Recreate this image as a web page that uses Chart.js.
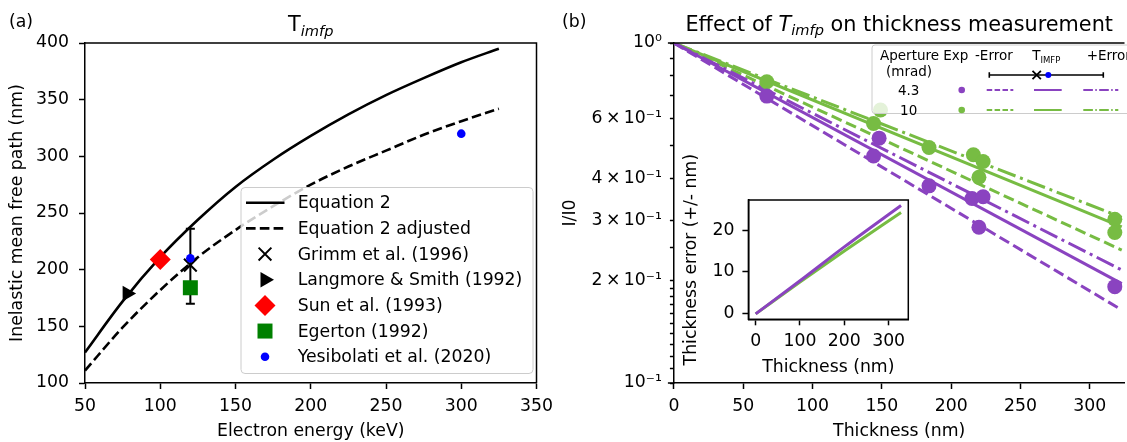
<!DOCTYPE html>
<html lang="en">
<head>
<meta charset="UTF-8">
<title>Inelastic mean free path and thickness</title>
<script src="https://cdn.jsdelivr.net/npm/chart.js"></script>
<style>
  html, body { margin: 0; padding: 0; background: #fff; overflow: hidden; width: 1127px; height: 442px; }
  canvas { position: absolute; }
  #chartA { left: 0; top: 0; }
  #chartB { left: 560px; top: 0; }
  #inset { left: 670px; top: 140px; }
</style>
</head>
<body>
<canvas id="chartA" width="560" height="442"></canvas>
<canvas id="chartB" width="572" height="442"></canvas>
<canvas id="inset" width="250" height="240"></canvas>
<script>
// ---- panel (a): IMFP vs electron energy ----
const energy = [50, 75, 100, 125, 150, 175, 200, 225, 250, 275, 300, 325];
const imfpEq2 = [127, 172, 211, 244, 273, 297, 318, 337, 354, 369, 383, 395];
const imfpEq2Adj = [111, 149, 182, 211, 235, 256, 275, 291, 305, 319, 331, 342];
const grimmE = [120], grimmL = [204], grimmLo = [170], grimmHi = [236];
const langmoreE = [78], langmoreL = [179];
const sunE = [100], sunL = [209];
const egertonE = [120], egertonL = [184];
const yesiE = [120, 300], yesiL = [210, 320];

// ---- panel (b): I/I0 vs thickness ----
const expThick43 = [67, 144, 148, 184, 215, 223, 220, 318];
const expI43 = [0.698, 0.465, 0.525, 0.380, 0.349, 0.353, 0.287, 0.192];
const expThick10 = [67, 144, 149, 184, 216, 223, 220, 318, 318];
const expI10 = [0.769, 0.580, 0.635, 0.493, 0.469, 0.448, 0.403, 0.303, 0.277];
const fitThick = [0, 323];
const fit43Minus = [1, 0.164], fit43 = [1, 0.196], fit43Plus = [1, 0.215];
const fit10Minus = [1, 0.246], fit10 = [1, 0.288], fit10Plus = [1, 0.307];
const logTickValues = [1, 0.6, 0.4, 0.3, 0.2, 0.1];
const logTickLabels = ['10\u2070', '6\u2009\u00d7\u200910\u207b\u00b9', '4\u2009\u00d7\u200910\u207b\u00b9',
                       '3\u2009\u00d7\u200910\u207b\u00b9', '2\u2009\u00d7\u200910\u207b\u00b9', '10\u207b\u00b9'];
const apertures = ['4.3', '10'];

// ---- inset: thickness error ----
const insetThick = [0, 100, 200, 328];
const insetErr43 = [0, 7.9, 16.0, 25.9];
const insetErr10 = [0, 7.6, 15.0, 24.2];

const purple = '#8a43c0';
const green = '#77bc43';
const FONT = "'DejaVu Sans', sans-serif";
const FS = 17.3;

Chart.defaults.font.family = FONT;
Chart.defaults.font.size = FS;
Chart.defaults.color = '#000';

const xy = (xs, ys) => xs.map((x, i) => ({x: x, y: ys[i]}));

function axis(extra) {
  const base = {
    grid: {drawOnChartArea: false, tickLength: 6, tickWidth: 1.5, tickColor: '#000'},
    border: {color: '#000', width: 1.5},
    ticks: {color: '#000', padding: 7, includeBounds: false, autoSkip: false, maxRotation: 0}
  };
  const out = Object.assign({}, base, extra);
  out.grid = Object.assign({}, base.grid, extra.grid || {});
  out.ticks = Object.assign({}, base.ticks, extra.ticks || {});
  return out;
}

function rrect(ctx, x, y, w, h, r) {
  ctx.beginPath();
  ctx.moveTo(x + r, y);
  ctx.lineTo(x + w - r, y); ctx.arcTo(x + w, y, x + w, y + r, r);
  ctx.lineTo(x + w, y + h - r); ctx.arcTo(x + w, y + h, x + w - r, y + h, r);
  ctx.lineTo(x + r, y + h); ctx.arcTo(x, y + h, x, y + h - r, r);
  ctx.lineTo(x, y + r); ctx.arcTo(x, y, x + r, y, r);
  ctx.closePath();
}

function richText(ctx, parts, cx, baseY) {
  let total = 0;
  parts.forEach(p => { ctx.font = p.font; p.w = ctx.measureText(p.t).width; total += p.w; });
  let x = cx - total / 2;
  ctx.textAlign = 'left';
  ctx.textBaseline = 'alphabetic';
  parts.forEach(p => { ctx.font = p.font; ctx.fillText(p.t, x, baseY + (p.dy || 0)); x += p.w; });
}

function marker(ctx, kind, x, y) {
  ctx.save();
  ctx.beginPath();
  if (kind === 'x') {
    ctx.strokeStyle = '#000'; ctx.lineWidth = 2;
    ctx.moveTo(x - 6.4, y - 6.4); ctx.lineTo(x + 6.4, y + 6.4);
    ctx.moveTo(x + 6.4, y - 6.4); ctx.lineTo(x - 6.4, y + 6.4);
    ctx.stroke();
  } else if (kind === 'tri') {
    ctx.fillStyle = '#000';
    ctx.moveTo(x + 9, y); ctx.lineTo(x - 4.5, y - 7.8); ctx.lineTo(x - 4.5, y + 7.8);
    ctx.closePath(); ctx.fill();
  } else if (kind === 'diamond') {
    ctx.fillStyle = '#ff0000';
    ctx.moveTo(x - 10.5, y); ctx.lineTo(x, y - 10.5); ctx.lineTo(x + 10.5, y); ctx.lineTo(x, y + 10.5);
    ctx.closePath(); ctx.fill();
  } else if (kind === 'square') {
    ctx.fillStyle = '#008000';
    ctx.rect(x - 7.5, y - 7.5, 15, 15); ctx.fill();
  } else if (kind === 'dot') {
    ctx.fillStyle = '#0000ff';
    ctx.arc(x, y, 4.3, 0, Math.PI * 2); ctx.fill();
  }
  ctx.restore();
}

// ---------------- panel (a) ----------------
const panelA = {
  id: 'panelA',
  beforeDatasetsDraw(chart) {
    const ctx = chart.ctx, xs = chart.scales.x, ys = chart.scales.y;
    ctx.save();
    ctx.strokeStyle = '#000'; ctx.lineWidth = 2;
    grimmE.forEach((e, i) => {
      const px = xs.getPixelForValue(e);
      const lo = ys.getPixelForValue(grimmLo[i]), hi = ys.getPixelForValue(grimmHi[i]);
      ctx.beginPath();
      ctx.moveTo(px, lo); ctx.lineTo(px, hi);
      ctx.moveTo(px - 4.5, lo); ctx.lineTo(px + 4.5, lo);
      ctx.moveTo(px - 4.5, hi); ctx.lineTo(px + 4.5, hi);
      ctx.stroke();
    });
    ctx.restore();
  },
  afterDatasetsDraw(chart) {
    const ctx = chart.ctx;
    ctx.save();
    rrect(ctx, 241, 187.5, 292, 186, 4);
    ctx.fillStyle = 'rgba(255,255,255,0.8)'; ctx.fill();
    ctx.strokeStyle = '#cccccc'; ctx.lineWidth = 1; ctx.stroke();
    const items = [
      ['line', 'Equation 2'], ['dash', 'Equation 2 adjusted'], ['x', 'Grimm et al. (1996)'],
      ['tri', 'Langmore & Smith (1992)'], ['diamond', 'Sun et al. (1993)'],
      ['square', 'Egerton (1992)'], ['dot', 'Yesibolati et al. (2020)']
    ];
    items.forEach((it, i) => {
      const y = 202.7 + i * 25.67;
      if (it[0] === 'line' || it[0] === 'dash') {
        ctx.beginPath();
        ctx.strokeStyle = '#000'; ctx.lineWidth = 2.6;
        ctx.setLineDash(it[0] === 'dash' ? [9.6, 4.2] : []);
        ctx.moveTo(246, y); ctx.lineTo(284.5, y); ctx.stroke();
        ctx.setLineDash([]);
      } else {
        marker(ctx, it[0], 265, y);
      }
      ctx.fillStyle = '#000';
      ctx.font = FS + 'px ' + FONT;
      ctx.textAlign = 'left'; ctx.textBaseline = 'alphabetic';
      ctx.fillText(it[1], 297.7, y + 5.5);
    });
    ctx.restore();
  },
  afterDraw(chart) {
    const ctx = chart.ctx, a = chart.chartArea;
    ctx.save();
    ctx.strokeStyle = '#000'; ctx.lineWidth = 1.5;
    ctx.beginPath();
    ctx.moveTo(a.left, a.top); ctx.lineTo(a.right, a.top); ctx.lineTo(a.right, a.bottom);
    ctx.stroke();
    ctx.fillStyle = '#000';
    ctx.font = FS + 'px ' + FONT; ctx.textAlign = 'left'; ctx.textBaseline = 'alphabetic';
    ctx.fillText('(a)', 9, 27);
    richText(ctx, [
      {t: 'T', font: '20.8px ' + FONT},
      {t: 'imfp', font: 'italic 14.6px ' + FONT, dy: 4.5}
    ], (a.left + a.right) / 2, 31);
    ctx.restore();
  }
};

new Chart(document.getElementById('chartA'), {
  type: 'line',
  data: {
    datasets: [
      {label: 'Yesibolati et al. (2020)', data: xy(yesiE, yesiL), showLine: false, order: 1,
       pointStyle: 'circle', pointRadius: 4.3, pointBackgroundColor: '#0000ff', pointBorderWidth: 0},
      {label: 'Egerton (1992)', data: xy(egertonE, egertonL), showLine: false, order: 2,
       pointStyle: 'rect', pointRadius: 10.6, pointBackgroundColor: '#008000', pointBorderWidth: 0},
      {label: 'Sun et al. (1993)', data: xy(sunE, sunL), showLine: false, order: 3,
       pointStyle: 'rectRot', pointRadius: 10.5, pointBackgroundColor: '#ff0000', pointBorderWidth: 0},
      {label: 'Langmore & Smith (1992)', data: xy(langmoreE, langmoreL), showLine: false, order: 4,
       pointStyle: 'triangle', pointRotation: 90, pointRadius: 9, pointBackgroundColor: '#000', pointBorderWidth: 0},
      {label: 'Grimm et al. (1996)', data: xy(grimmE, grimmL), showLine: false, order: 5,
       pointStyle: 'crossRot', pointRadius: 9, pointBorderColor: '#000', pointBorderWidth: 2},
      {label: 'Equation 2', data: xy(energy, imfpEq2), order: 6, borderColor: '#000', borderWidth: 2.6,
       pointRadius: 0, cubicInterpolationMode: 'monotone'},
      {label: 'Equation 2 adjusted', data: xy(energy, imfpEq2Adj), order: 7, borderColor: '#000', borderWidth: 2.6,
       borderDash: [9.6, 4.2], pointRadius: 0, cubicInterpolationMode: 'monotone'}
    ]
  },
  options: {
    responsive: false,
    animation: false,
    layout: {padding: {top: 43, right: 19, left: 0, bottom: 0}},
    plugins: {legend: {display: false}, title: {display: false}, tooltip: {enabled: false}},
    scales: {
      x: axis({type: 'linear', min: 50, max: 350, ticks: {stepSize: 50},
        title: {display: true, text: 'Electron energy (keV)', padding: {top: 0, bottom: 0}},
        afterFit: s => { s.height = 59; }}),
      y: axis({type: 'linear', min: 100, max: 400, ticks: {stepSize: 50, padding: 10},
        title: {display: true, text: 'Inelastic mean free path (nm)', padding: {top: 7.5, bottom: 0}},
        afterFit: s => { s.width = 85; }})
    }
  },
  plugins: [panelA]
});

// ---------------- panel (b) ----------------
const dashMinus = [11, 4.8];
const dashPlus = [19, 4.8, 3, 4.8];

const panelB = {
  id: 'panelB',
  afterDatasetsDraw(chart) {
    const ctx = chart.ctx;
    ctx.save();
    ctx.translate(-560, 0);
    rrect(ctx, 872, 45, 290, 68.5, 3);
    ctx.fillStyle = 'rgba(255,255,255,0.8)'; ctx.fill();
    ctx.strokeStyle = '#cccccc'; ctx.lineWidth = 1; ctx.stroke();
    ctx.fillStyle = '#000';
    ctx.textAlign = 'left'; ctx.textBaseline = 'alphabetic';
    ctx.font = '13.5px ' + FONT;
    ctx.fillText('Aperture', 880, 60);
    ctx.fillText('Exp', 943.3, 60);
    ctx.fillText('-Error', 975, 60);
    ctx.fillText('T', 1032.3, 60);
    ctx.fillText('+Error', 1086.7, 60);
    ctx.fillText('(mrad)', 886, 76);
    ctx.font = '8.5px ' + FONT;
    ctx.fillText('IMFP', 1040.5, 62.5);
    // error bar sample
    ctx.strokeStyle = '#000'; ctx.lineWidth = 1.6;
    ctx.beginPath();
    ctx.moveTo(989.3, 75); ctx.lineTo(1103.3, 75);
    ctx.moveTo(989.3, 72.2); ctx.lineTo(989.3, 77.8);
    ctx.moveTo(1103.3, 72.2); ctx.lineTo(1103.3, 77.8);
    ctx.stroke();
    ctx.lineWidth = 1.8;
    ctx.beginPath();
    ctx.moveTo(1032.5, 70.8); ctx.lineTo(1040.9, 79.2);
    ctx.moveTo(1040.9, 70.8); ctx.lineTo(1032.5, 79.2);
    ctx.stroke();
    ctx.fillStyle = '#0000ff';
    ctx.beginPath(); ctx.arc(1048.3, 75, 3, 0, Math.PI * 2); ctx.fill();
    // aperture rows
    [purple, green].forEach((col, i) => {
      const y = 90 + i * 20;
      ctx.fillStyle = '#000';
      ctx.font = '13.5px ' + FONT; ctx.textAlign = 'center';
      ctx.fillText(apertures[i], 908.7, y + 5);
      ctx.fillStyle = col;
      ctx.beginPath(); ctx.arc(961.7, y, 3.3, 0, Math.PI * 2); ctx.fill();
      ctx.strokeStyle = col; ctx.lineWidth = 2;
      [[986.7, 1013.3, [5.5, 2.4]], [1034, 1061.7, []], [1083.3, 1118.3, [9.6, 2.4, 1.5, 2.4]]].forEach(s => {
        ctx.setLineDash(s[2]);
        ctx.beginPath(); ctx.moveTo(s[0], y); ctx.lineTo(s[1], y); ctx.stroke();
      });
      ctx.setLineDash([]);
    });
    ctx.restore();
  },
  afterDraw(chart) {
    const ctx = chart.ctx, a = chart.chartArea, ys = chart.scales.y;
    ctx.save();
    ctx.strokeStyle = '#000'; ctx.lineWidth = 1.5;
    ctx.beginPath();
    ctx.moveTo(a.left, a.top); ctx.lineTo(a.right, a.top);
    [1, 0.1].forEach(v => {
      const py = ys.getPixelForValue(v);
      ctx.moveTo(a.left - 6, py); ctx.lineTo(a.left, py);
    });
    ctx.stroke();
    ctx.fillStyle = '#000';
    ctx.font = FS + 'px ' + FONT; ctx.textAlign = 'left'; ctx.textBaseline = 'alphabetic';
    ctx.fillText('(b)', 2, 27);
    richText(ctx, [
      {t: 'Effect of ', font: '20.8px ' + FONT},
      {t: 'T', font: 'italic 20.8px ' + FONT},
      {t: 'imfp', font: 'italic 14.6px ' + FONT, dy: 4.5},
      {t: ' on thickness measurement', font: '20.8px ' + FONT}
    ], (a.left + a.right) / 2, 30.7);
    ctx.restore();
  }
};

function fitLine(label, ys, color, dash) {
  return {label: label, data: xy(fitThick, ys), borderColor: color, borderWidth: 3,
          borderDash: dash, pointRadius: 0, order: 5};
}

new Chart(document.getElementById('chartB'), {
  type: 'line',
  data: {
    datasets: [
      {label: 'Exp 4.3 mrad', data: xy(expThick43, expI43), showLine: false, order: 1,
       pointRadius: 7.5, pointBackgroundColor: purple, pointBorderWidth: 0},
      {label: 'Exp 10 mrad', data: xy(expThick10, expI10), showLine: false, order: 2,
       pointRadius: 7.5, pointBackgroundColor: green, pointBorderWidth: 0},
      fitLine('4.3 -Error', fit43Minus, purple, dashMinus),
      fitLine('4.3 Timfp', fit43, purple, []),
      fitLine('4.3 +Error', fit43Plus, purple, dashPlus),
      fitLine('10 -Error', fit10Minus, green, dashMinus),
      fitLine('10 Timfp', fit10, green, []),
      fitLine('10 +Error', fit10Plus, green, dashPlus)
    ]
  },
  options: {
    responsive: false,
    animation: false,
    layout: {padding: {top: 43, right: 2, left: 0, bottom: 0}},
    plugins: {legend: {display: false}, title: {display: false}, tooltip: {enabled: false}},
    scales: {
      x: axis({type: 'linear', min: 0, max: 325, ticks: {stepSize: 50},
        title: {display: true, text: 'Thickness (nm)', padding: {top: 0, bottom: 0}},
        afterFit: s => { s.height = 59; }}),
      y: axis({type: 'logarithmic', min: 0.1, max: 1,
        grid: {tickLength: 4},
        ticks: {padding: 8, callback: v => {
          const k = logTickValues.findIndex(t => Math.abs(t - v) < 1e-6);
          return k >= 0 ? logTickLabels[k] : '';
        }},
        title: {display: true, text: 'I/I0', padding: {top: 0, bottom: 0}},
        afterFit: s => { s.width = 113.9; }})
    }
  },
  plugins: [panelB]
});

// ---------------- inset ----------------
const insetPlugin = {
  id: 'insetFrame',
  beforeDraw(chart) {
    const ctx = chart.ctx, a = chart.chartArea;
    ctx.save(); ctx.fillStyle = '#fff';
    ctx.fillRect(a.left, a.top, a.right - a.left, a.bottom - a.top);
    ctx.restore();
  },
  afterDraw(chart) {
    const ctx = chart.ctx, a = chart.chartArea;
    ctx.save(); ctx.strokeStyle = '#000'; ctx.lineWidth = 1.5;
    ctx.strokeRect(a.left, a.top, a.right - a.left, a.bottom - a.top);
    ctx.restore();
  }
};

new Chart(document.getElementById('inset'), {
  type: 'line',
  data: {
    datasets: [
      {label: '4.3 mrad', data: xy(insetThick, insetErr43), borderColor: purple, borderWidth: 3,
       pointRadius: 0, cubicInterpolationMode: 'monotone', order: 1},
      {label: '10 mrad', data: xy(insetThick, insetErr10), borderColor: green, borderWidth: 3,
       pointRadius: 0, cubicInterpolationMode: 'monotone', order: 2}
    ]
  },
  options: {
    responsive: false,
    animation: false,
    layout: {padding: {top: 60, right: 11.7, left: 0, bottom: 0}},
    plugins: {legend: {display: false}, title: {display: false}, tooltip: {enabled: false}},
    scales: {
      x: axis({type: 'linear', min: -16.4, max: 344.4, ticks: {stepSize: 100, padding: 6},
        title: {display: true, text: 'Thickness (nm)', padding: {top: 0, bottom: 2.6}},
        afterFit: s => { s.height = 60.7; }}),
      y: axis({type: 'linear', min: -1.3, max: 27.2, ticks: {stepSize: 10, padding: 8},
        title: {display: true, text: 'Thickness error (+/- nm)', padding: {top: 11.6, bottom: 0}},
        afterFit: s => { s.width = 78.4; }})
    }
  },
  plugins: [insetPlugin]
});
</script>
</body>
</html>
